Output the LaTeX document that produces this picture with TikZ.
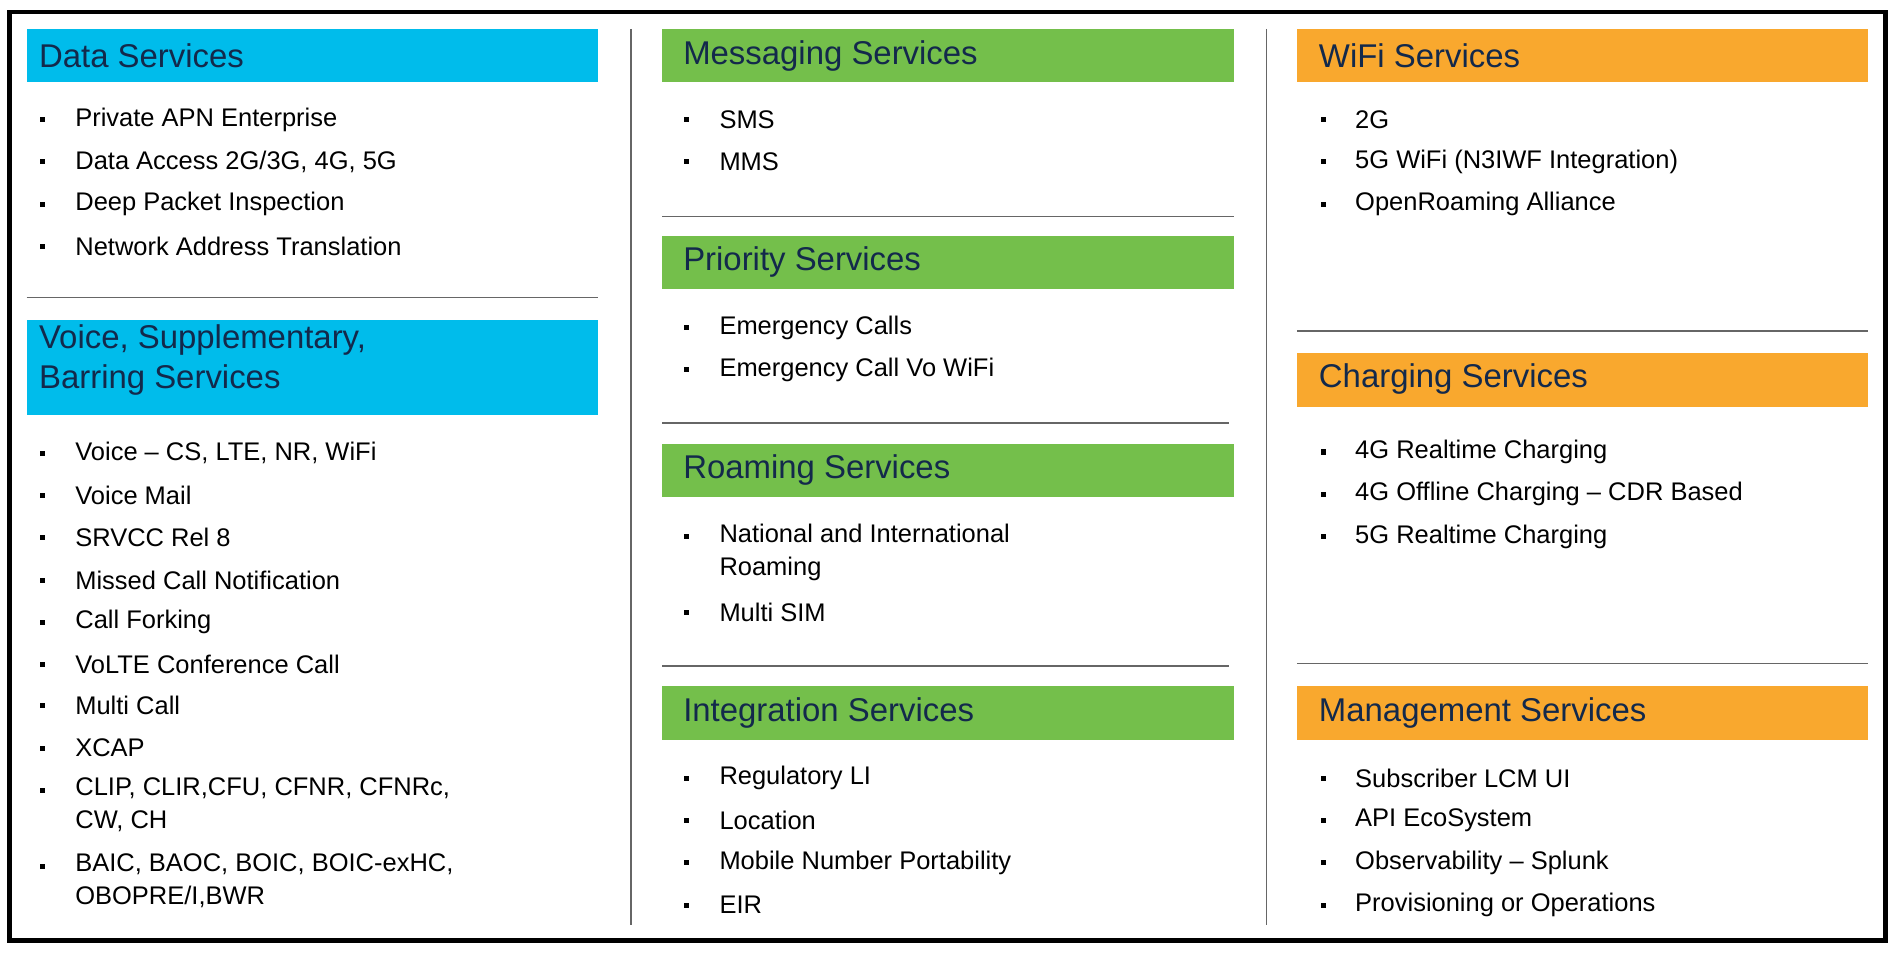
\documentclass[tikz,border=0pt]{standalone}
\usepackage{fontspec}
\setmainfont{Liberation Sans}
\begin{document}
\begin{tikzpicture}[x=0.02cm,y=-0.02cm,
 hdr/.style={anchor=north west,inner sep=0,minimum width=473*0.02cm},
 ttl/.style={anchor=west,inner sep=0,text=navy,font=\fontsize{15.5}{19}\selectfont,align=left},
 itm/.style={anchor=west,inner sep=0,font=\fontsize{12}{15.5}\selectfont,align=left},
 bul/.style={fill=black,minimum size=2.4pt,inner sep=0},
 sep/.style={draw=gray!80!black,line width=0.7pt}]
\definecolor{cblue}{HTML}{00BCEB}
\definecolor{cgreen}{HTML}{74BF4B}
\definecolor{corange}{HTML}{F9A82E}
\definecolor{navy}{HTML}{13294B}
\useasboundingbox (0,0) rectangle (1568,790);
\draw[line width=2.2pt] (8,10) rectangle (1560,778);
\draw[sep] (522,24) -- (522,765);
\draw[sep] (1048,24) -- (1048,765);
% col1
\fill[cblue] (22,24) rectangle (495,68);
\node[ttl] (t1) at (32,46) {Data Services};
\fill[cblue] (22,265) rectangle (495,343);
\node[ttl,anchor=north west] (t2) at (32,268) {Voice, Supplementary,\\Barring Services};
\draw[sep] (22,246) -- (495,246);
\foreach \y/\t in {99/Private APN Enterprise,134/{Data Access 2G/3G, 4G, 5G},169/Deep Packet Inspection,204/Network Address Translation,375/{Voice – CS, LTE, NR, WiFi},410/Voice Mail/Announcement,445/SRVCC Rel 8/Pre Rel 9,480/Missed Call Notification,515/Call Forking,550/VoLTE Conference Call,584/Multi Call,619/XCAP}
 {\node[bul] at (35,\y) {}; \node[itm] at (62,\y) {\t};}
\node[bul] at (35,654) {}; \node[itm,anchor=north west] (a1) at (62,643) {CLIP, CLIR,CFU, CFNR, CFNRc,\\CW, CH};
\node[bul] at (35,717) {}; \node[itm,anchor=north west] (a2) at (62,706) {BAIC, BAOC, BOIC, BOIC-exHC,\\OBOPRE/I,BWR};
% col2
\fill[cgreen] (548,24) rectangle (1021,68); \node[ttl] (t3) at (565,46) {Messaging Services};
\draw[sep] (548,179) -- (1021,179);
\fill[cgreen] (548,195) rectangle (1021,239); \node[ttl] (t4) at (565,217) {Priority Services};
\draw[sep] (548,350) -- (1017,350);
\fill[cgreen] (548,367) rectangle (1021,411); \node[ttl] (t5) at (565,389) {Roaming Services};
\draw[sep] (548,551) -- (1017,551);
\fill[cgreen] (548,568) rectangle (1021,612); \node[ttl] (t6) at (565,590) {Integration Services};
\foreach \y/\t in {99/SMS,134/MMS,271/Emergency Calls,306/Emergency Call Vo WiFi,507/Multi SIM/Multi IMSI,644/Regulatory LI,679/Location,714/Mobile Number Portability,749/EIR}
 {\node[bul] at (568,\y) {}; \node[itm] at (595,\y) {\t};}
\node[bul] at (568,444) {}; \node[itm,anchor=north west] (a3) at (595,433) {National and International\\Roaming};
% col3
\fill[corange] (1073,24) rectangle (1546,68); \node[ttl] (t7) at (1091,46) {WiFi Services};
\draw[sep] (1073,274) -- (1546,274);
\fill[corange] (1073,292) rectangle (1546,337); \node[ttl] (t8) at (1091,314) {Charging Services};
\draw[sep] (1073,549) -- (1546,549);
\fill[corange] (1073,568) rectangle (1546,612); \node[ttl] (t9) at (1091,590) {Management Services};
\foreach \y/\t in {99/2G/3G/4G WiFi,134/5G WiFi (N3IWF Integration),169/OpenRoaming Alliance,374/4G Realtime Charging,409/4G Offline Charging – CDR Based,444/5G Realtime Charging,644/Subscriber LCM UI/UX,679/API EcoSystem,714/Observability – Splunk,749/Provisioning or Operations}
 {\node[bul] at (1095,\y) {}; \node[itm] at (1121,\y) {\t};}
\end{tikzpicture}
\end{document}
